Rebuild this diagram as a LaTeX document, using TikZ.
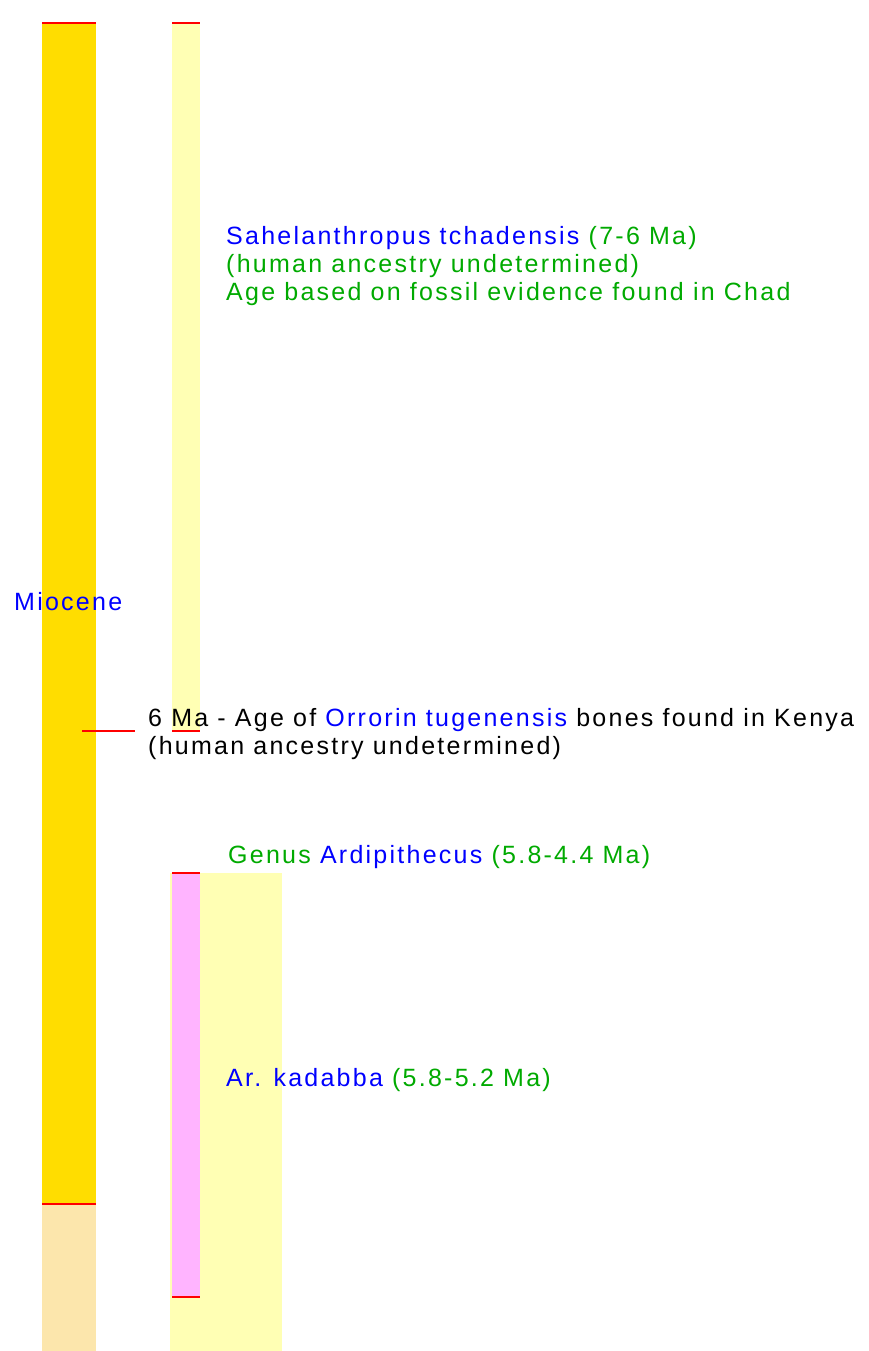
\documentclass[tikz,border=0pt]{standalone}
\usepackage{fontspec}
\setmainfont{Liberation Sans}[LetterSpace=9]
\definecolor{gold}{RGB}{255,221,0}
\definecolor{beige}{RGB}{252,230,172}
\definecolor{paleyel}{RGB}{255,255,180}
\definecolor{pinkbar}{RGB}{255,180,255}
\definecolor{tblue}{RGB}{0,0,255}
\definecolor{tgreen}{RGB}{0,170,0}
\tikzset{
  redline/.style={draw=red, line width=2pt},
  lbl/.style={anchor=base west, inner sep=0pt, align=left, font=\fontsize{25}{28}\selectfont},
}
\begin{document}
\begin{tikzpicture}[x=1pt,y=-1pt]
\fill[white] (0,0) rectangle (868,1351);
\useasboundingbox (0,0) rectangle (868,1351);
% bars
\fill[gold] (42,23) rectangle (96,1204);
\fill[beige] (42,1204) rectangle (96,1351);
\fill[paleyel] (172,23) rectangle (200,731);
\fill[paleyel] (170,873) rectangle (282,1351);
\fill[pinkbar] (172,873) rectangle (200,1297);
% red boundary lines
\draw[redline] (42,23) -- (96,23);
\draw[redline] (172,23) -- (200,23);
\draw[redline] (172,731) -- (200,731);
\draw[redline] (42,1204) -- (96,1204);
\draw[redline] (172,873) -- (200,873);
\draw[redline] (172,1297) -- (200,1297);
\coordinate (tickA) at (82,731);
\coordinate (tickB) at (135,731);
\draw[redline] (tickA) -- (tickB);
% labels (base anchor = baseline of last line)
\node[lbl, text=tblue] (mio) at (14,610) {Miocene};
\node[lbl, text=tgreen] (sahel) at (226,300) {{\color{tblue}Sahelanthropus tchadensis} (7-6 Ma)\\(human ancestry undetermined)\\Age based on fossil evidence found in Chad};
\node[lbl, text=black] (orr) at (148,754) {6 Ma - Age of {\color{tblue}Orrorin tugenensis} bones found in Kenya\\(human ancestry undetermined)};
\node[lbl, text=tgreen] (ardi) at (228,863) {Genus {\color{tblue}Ardipithecus} (5.8-4.4 Ma)};
\node[lbl, text=tgreen] (kad) at (226,1086) {{\color{tblue}Ar. kadabba} (5.8-5.2 Ma)};
\end{tikzpicture}
\end{document}
